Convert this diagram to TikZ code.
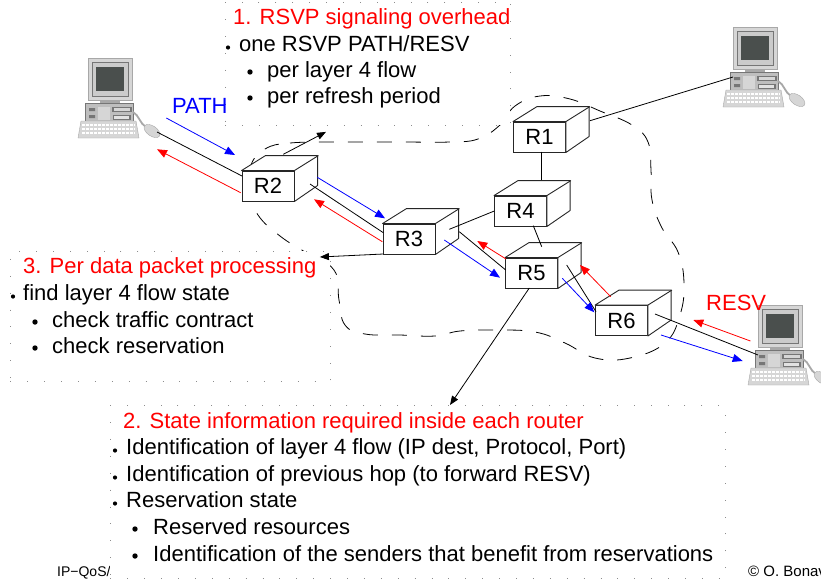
\documentclass[tikz,border=0pt]{standalone}
\usepackage{fontspec}
\setmainfont{Liberation Sans}
\usetikzlibrary{arrows.meta,calc}
\definecolor{sigred}{HTML}{FF0000}
\definecolor{sigblue}{HTML}{0000FF}
\definecolor{dotgrey}{HTML}{8C8C8C}
\definecolor{pclight}{HTML}{D6D6D6}
\definecolor{pcmid}{HTML}{A8A8A8}
\definecolor{pcdark}{HTML}{767676}
\definecolor{pcscreen}{HTML}{4A4F4D}

% a desktop host, origin at the top left corner of the monitor
\tikzset{
  pics/pc/.style={code={
    % monitor
    \filldraw[fill=pclight,draw=pcmid] (0,0) rectangle (44,42);
    \filldraw[fill=pcmid!60,draw=pcdark] (4,4) rectangle (40,38);
    \fill[pcscreen] (8,9) rectangle (36,33);
    \fill[pcmid] (12,42) rectangle (32,46);
    % case
    \filldraw[fill=pcmid!75,draw=pcdark] (-3,45) rectangle (45,64);
    \fill[pclight] (10,49) rectangle (22,62);
    \fill[pcdark] (24,49) rectangle (44,54);
    \fill[pclight] (26,50) rectangle (42,53);
    \fill[pcdark] (25,57) rectangle (43,62);
    \fill[pclight!70] (26,58) rectangle (41,61);
    \fill[pcdark] (1,50) rectangle (7,53) (1,57) rectangle (7,60);
    % keyboard
    \filldraw[fill=pclight,draw=pcmid] (-7,63) -- (48,63) -- (51,80) -- (-10,80) -- cycle;
    \foreach \k in {67,71,75}
      \draw[white,line width=1.4pt,dash pattern=on 3pt off 1pt] (-6,\k) -- (47,\k);
    % mouse and cable
    \draw[pcmid,line width=1.8pt] (45,54) .. controls (51,57) and (52,66) .. (58,69);
    \filldraw[fill=pclight,draw=pcmid,rotate around={-35:(64,73)}] (64,73) ellipse (9pt and 5pt);
    \coordinate (-mouse) at (69,74);
    \coordinate (-case) at (0,50);
  }}
}

\begin{document}
\begin{tikzpicture}[
  x=1pt,y=-1pt,
  txt/.style={anchor=base west,inner sep=0pt,font=\fontsize{22}{26}\selectfont},
  head/.style={txt,text=sigred},
  notebox/.style={draw=dotgrey,fill=white,line width=0.9pt,
                  dash pattern=on 0.9pt off 16pt,inner sep=0pt,anchor=north west},
  router/.style={draw=black!85,fill=white,line width=0.9pt,minimum width=52pt,
                 minimum height=30pt,inner sep=0pt,font=\fontsize{22}{26}\selectfont},
  cloud/.style={draw=black,line width=0.8pt,dash pattern=on 15pt off 14pt},
  link/.style={draw=black,line width=0.8pt},
  pathflow/.style={draw=sigblue,line width=0.8pt,-{Triangle[length=10pt,width=8pt]}},
  resvflow/.style={draw=sigred,line width=0.8pt,-{Triangle[length=10pt,width=8pt]}},
  pointer/.style={draw=black,line width=0.8pt,-{Triangle[length=9pt,width=7pt]}},
]
\useasboundingbox (0,0) rectangle (821,579);

% footer
\node[anchor=base west,inner sep=0pt,font=\fontsize{14}{16}\selectfont] (foot) at (57,576) {IP−QoS/};
\node[anchor=base west,inner sep=0pt,font=\fontsize{15}{17}\selectfont] (copy) at (748,576) {© O. Bonav};

% hosts
\pic (hostA) at (88,58) {pc};
\pic (hostB) at (733,27) {pc};
\pic (hostC) at (758,305) {pc};

% the RSVP domain
\draw[cloud] plot[smooth cycle,tension=0.7] coordinates {
  (265,149) (290,143) (340,142) (400,142) (450,142) (478,139) (500,125)
  (515,106) (540,96) (570,99) (600,111) (632,125) (648,142) (651,170)
  (652,200) (662,228) (678,252) (684,283) (680,315) (665,343) (630,358)
  (595,358) (565,343) (535,332) (495,330) (460,331) (435,336) (400,335)
  (365,334) (345,325) (339,300) (334,270) (305,252) (280,236) (258,215)
  (249,190) (251,165)};

% 1. signaling
\node[notebox,minimum width=285pt,minimum height=123pt] (sig) at (225,2) {};
\node[head] (sigh) at (233,24) {1. RSVP signaling overhead};
\fill (228,47.5) circle (2.1pt);
\node[txt] (sig1) at (239,51) {one RSVP PATH/RESV};
\foreach \y/\t in {77/per layer 4 flow, 103/per refresh period} {
  \fill (250,\y-5) circle (2.7pt);
  \node[txt] at (267,\y) {\t};
}

% 3. data path
\node[notebox,minimum width=320pt,minimum height=130pt] (proc) at (10,251) {};
\node[head] (proch) at (23,273) {3. Per data packet processing};
\fill (13,296.5) circle (2.1pt);
\node[txt] (proc1) at (23,300) {find layer 4 flow state};
\foreach \y/\t in {327/check traffic contract, 353/check reservation} {
  \fill (35,\y-5) circle (2.7pt);
  \node[txt] at (52,\y) {\t};
}

% 2. per router state
\node[notebox,minimum width=615pt,minimum height=173pt] (state) at (110,405) {};
\node[head] (stateh) at (123,428) {2. State information required inside each router};
\foreach \y/\t in {454/{Identification of layer 4 flow (IP dest, Protocol, Port)},
                   481/Identification of previous hop (to forward RESV),
                   507/Reservation state} {
  \fill (115,\y-3.5) circle (2.1pt);
  \node[txt] at (126,\y) {\t};
}
\foreach \y/\t in {534/Reserved resources,
                   561/Identification of the senders that benefit from reservations} {
  \fill (135,\y-5) circle (2.7pt);
  \node[txt] at (153,\y) {\t};
}

% routers
\foreach \n/\x/\y in {R1/539.5/137, R2/268/186, R3/409/239,
                      R4/520.5/211, R5/531.5/273, R6/621.5/320.5} {
  \node[router] (\n) at (\x,\y) {\n};
  \filldraw[fill=white,draw=black!85,line width=0.9pt,line join=round]
    (\n.north west) -- ++(24,-15) -- ++(52,0) -- ++(0,30)
    -- (\n.south east) -- (\n.north east) -- cycle;
  \draw[draw=black!85,line width=0.9pt] (\n.north east) -- ++(24,-15);
}

% links
\draw[link] (hostA-mouse) -- ($(R2)+(-26,-10)$);
\draw[link] ($(R2)+(42,-2)$) -- ($(R3)+(-25.7,-6.3)$);
\draw[link] ($(R3)+(40.3,-9.7)$) -- ($(R4)+(-26.2,0)$);
\draw[link] ($(R3)+(50.3,-7.3)$) -- ($(R5)+(-25.8,-3)$);
\draw[link] ($(R4)+(12.8,14.7)$) -- ($(R5)+(10.2,-26.3)$);
\draw[link] ($(R1)+(2.2,14.7)$) -- ($(R4)+(21.2,-31)$);
\draw[link] ($(R1)+(50.5,-16.3)$) -- (hostB-case);
\draw[link] ($(R5)+(35.2,-8)$) -- ($(R6)+(-25.5,-8.8)$);
\draw[link] ($(R6)+(33.5,-6.5)$) -- (hostC-case);

% PATH messages downstream
\node[anchor=base west,inner sep=0pt,text=sigblue,font=\fontsize{22}{26}\selectfont]
  (pathlbl) at (172,113) {PATH};
\draw[pathflow] ($(hostA-mouse)+(9.3,-14)$) -- ($(R2)+(-33,-31)$);
\draw[pathflow] ($(R2)+(49.3,-8.7)$) -- ($(R3)+(-24,-20.7)$);
\draw[pathflow] ($(R3)+(35.3,1)$) -- ($(R5)+(-31.5,4.7)$);
\draw[pathflow] ($(R5)+(30.8,5.3)$) -- ($(R6)+(-27.2,-8.2)$);
\draw[pathflow] ($(R6)+(39.5,14.5)$) -- ($(hostC-case)+(-15.3,6)$);

% RESV messages upstream
\node[anchor=base west,inner sep=0pt,text=sigred,font=\fontsize{22}{26}\selectfont]
  (resvlbl) at (706,310) {RESV};
\draw[resvflow] ($(hostC-case)+(-7.6,-14)$) -- ($(R6)+(71.8,-0.5)$);
\draw[resvflow] ($(R6)+(-10.8,-23.8)$) -- ($(R5)+(48.5,-8)$);
\draw[resvflow] ($(R5)+(-25.5,-14)$) -- ($(R3)+(68.3,2)$);
\draw[resvflow] ($(R3)+(-26.7,2.7)$) -- ($(R2)+(46,13.3)$);
\draw[resvflow] ($(R2)+(-27.3,6.7)$) -- ($(hostA-mouse)+(0,17.3)$);

% pointers to the notes
\draw[pointer] ($(R2)+(15.3,-31.7)$) -- ($(sig.south west)+(101,6)$);
\draw[pointer] ($(R3)+(-25.7,15)$) -- ($(proc.north east)+(-11,6)$);
\draw[pointer] ($(R5)+(-2.2,15)$) -- ($(state.north west)+(340,0)$);

\end{tikzpicture}
\end{document}
